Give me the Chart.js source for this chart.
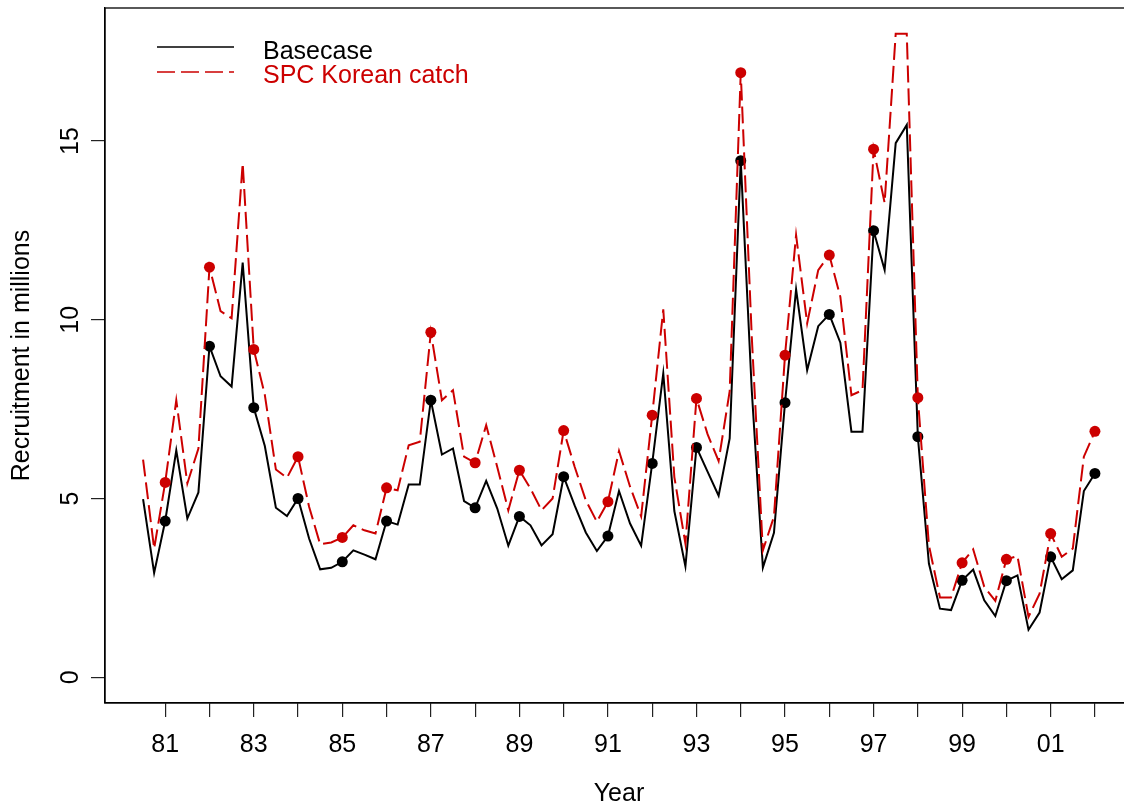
<!DOCTYPE html>
<html>
<head>
<meta charset="utf-8">
<script src="https://cdn.jsdelivr.net/npm/chart.js@4.4.1/dist/chart.umd.min.js"></script>
<style>
  html, body { margin: 0; padding: 0; background: #fff; overflow: hidden; }
  #wrap { width: 1124px; height: 808px; overflow: hidden; }
</style>
</head>
<body>
<div id="wrap"><canvas id="recruitment-chart" width="1141" height="808"></canvas></div>
<script>
// quarterly recruitment, first value is 1980.5, one value per quarter up to 2002
const startYear = 1980.5;

const basecase = [
  4.98, 2.92, 4.37, 6.35, 4.44, 5.17, 9.26, 8.42, 8.13, 11.6,
  7.54, 6.47, 4.74, 4.51, 5.0, 3.88, 3.02, 3.06, 3.23, 3.55,
  3.43, 3.3, 4.37, 4.27, 5.39, 5.39, 7.75, 6.23, 6.4, 4.93,
  4.74, 5.49, 4.72, 3.68, 4.5, 4.25, 3.69, 4.0, 5.61, 4.8,
  4.05, 3.53, 3.95, 5.21, 4.3, 3.68, 5.98, 8.5, 4.65, 3.1,
  6.43, 5.75, 5.08, 6.68, 14.45, 8.0, 3.07, 4.04, 7.68, 10.85,
  8.59, 9.82, 10.15, 9.36, 6.87, 6.87, 12.49, 11.39, 14.94, 15.45,
  6.73, 3.18, 1.92, 1.88, 2.71, 3.01, 2.15, 1.71, 2.7, 2.85,
  1.33, 1.81, 3.37, 2.74, 2.99, 5.21, 5.7
];

const spcKorean = [
  6.09, 3.6, 5.45, 7.75, 5.42, 6.4, 11.47, 10.24, 10.04, 14.38,
  9.17, 7.9, 5.81, 5.58, 6.17, 4.77, 3.72, 3.77, 3.91, 4.25,
  4.11, 4.02, 5.3, 5.23, 6.49, 6.59, 9.65, 7.75, 8.03, 6.17,
  6.0, 7.05, 5.88, 4.67, 5.79, 5.28, 4.67, 5.0, 6.9, 5.88,
  4.95, 4.35, 4.91, 6.33, 5.33, 4.5, 7.33, 10.29, 5.6, 3.74,
  7.8, 6.8, 6.05, 8.0, 16.91, 9.5, 3.55, 4.49, 9.01, 12.37,
  9.9, 11.39, 11.81, 10.64, 7.89, 8.03, 14.77, 13.27, 18.0, 18.0,
  7.82, 3.69, 2.23, 2.23, 3.2, 3.58, 2.53, 2.14, 3.3, 3.39,
  1.69, 2.34, 4.02, 3.37, 3.6, 6.17, 6.88
];

const xTickYears = [1981, 1982, 1983, 1984, 1985, 1986, 1987, 1988, 1989, 1990, 1991,
  1992, 1993, 1994, 1995, 1996, 1997, 1998, 1999, 2000, 2001, 2002];
const yTicks = [0, 5, 10, 15];

const seriesNames = ['Basecase', 'SPC Korean catch'];

const RED = '#cc0000';
const FONT = "'Liberation Sans', Arial, Helvetica, sans-serif";
Chart.defaults.font.family = FONT;
Chart.defaults.color = '#000';

const quarters = basecase.map((_, i) => startYear + i / 4);
const dotRadius = quarters.map(q => Number.isInteger(q) ? 5.5 : 0);
const toPoints = values => values.map((v, i) => ({ x: quarters[i], y: v }));

// plot frame plus the little legend in the top left corner
const frameAndLegend = {
  id: 'frameAndLegend',
  afterDraw(chart) {
    const { ctx, chartArea: a } = chart;
    ctx.save();
    ctx.strokeStyle = '#000';
    ctx.lineWidth = 1.3;
    ctx.strokeRect(a.left, a.top, a.right - a.left, a.bottom - a.top);

    ctx.lineWidth = 1.6;
    ctx.beginPath();
    ctx.moveTo(157, 47);
    ctx.lineTo(234, 47);
    ctx.stroke();

    ctx.strokeStyle = RED;
    ctx.setLineDash([18, 6]);
    ctx.beginPath();
    ctx.moveTo(157, 72);
    ctx.lineTo(234, 72);
    ctx.stroke();
    ctx.setLineDash([]);

    ctx.font = '25px ' + FONT;
    ctx.textAlign = 'left';
    ctx.textBaseline = 'alphabetic';
    ctx.fillStyle = '#000';
    ctx.fillText(seriesNames[0], 263, 59);
    ctx.fillStyle = RED;
    ctx.fillText(seriesNames[1], 263, 83);
    ctx.restore();
  }
};

const ctx = document.getElementById('recruitment-chart').getContext('2d');
new Chart(ctx, {
  type: 'line',
  data: {
    datasets: [
      {
        label: seriesNames[1],
        data: toPoints(spcKorean),
        borderColor: RED,
        borderWidth: 2,
        borderDash: [17, 6],
        pointRadius: dotRadius,
        pointBackgroundColor: RED,
        pointBorderWidth: 0,
        order: 0
      },
      {
        label: seriesNames[0],
        data: toPoints(basecase),
        borderColor: '#000',
        borderWidth: 2,
        pointRadius: dotRadius,
        pointBackgroundColor: '#000',
        pointBorderWidth: 0,
        order: 1
      }
    ]
  },
  options: {
    responsive: false,
    animation: false,
    events: [],
    layout: { padding: { top: 8, right: 8, left: 0, bottom: 0 } },
    plugins: { legend: { display: false }, tooltip: { enabled: false } },
    scales: {
      x: {
        type: 'linear',
        min: 1979.64,
        max: 2002.86,
        afterBuildTicks: s => { s.ticks = xTickYears.map(v => ({ value: v })); },
        afterFit: s => { s.height = 105; s.paddingLeft = 0; s.paddingRight = 0; },
        grid: { drawOnChartArea: false, tickLength: 14, color: '#222', lineWidth: 1.2 },
        border: { display: true, color: '#000', width: 1.3 },
        ticks: {
          autoSkip: false,
          maxRotation: 0,
          padding: 13,
          color: '#000',
          font: { size: 25 },
          callback: v => (v % 2 === 1 ? String(v).slice(2) : '')
        },
        title: {
          display: true,
          text: 'Year',
          color: '#000',
          font: { size: 25, lineHeight: 1 },
          padding: { top: 0, bottom: 1 }
        }
      },
      y: {
        min: -0.72,
        max: 18.72,
        afterBuildTicks: s => { s.ticks = yTicks.map(v => ({ value: v })); },
        afterFit: s => { s.width = 105; s.paddingTop = 0; s.paddingBottom = 0; },
        grid: { drawOnChartArea: false, tickLength: 14, color: '#222', lineWidth: 1.2 },
        border: { display: true, color: '#000', width: 1.3 },
        ticks: {
          minRotation: 90,
          maxRotation: 90,
          crossAlign: 'center',
          padding: 6,
          color: '#000',
          font: { size: 25 },
          callback: v => String(v)
        },
        title: {
          display: true,
          text: 'Recruitment in millions',
          color: '#000',
          font: { size: 25, lineHeight: 1 },
          padding: { top: 10, bottom: 0 }
        }
      }
    }
  },
  plugins: [frameAndLegend]
});
</script>
</body>
</html>
